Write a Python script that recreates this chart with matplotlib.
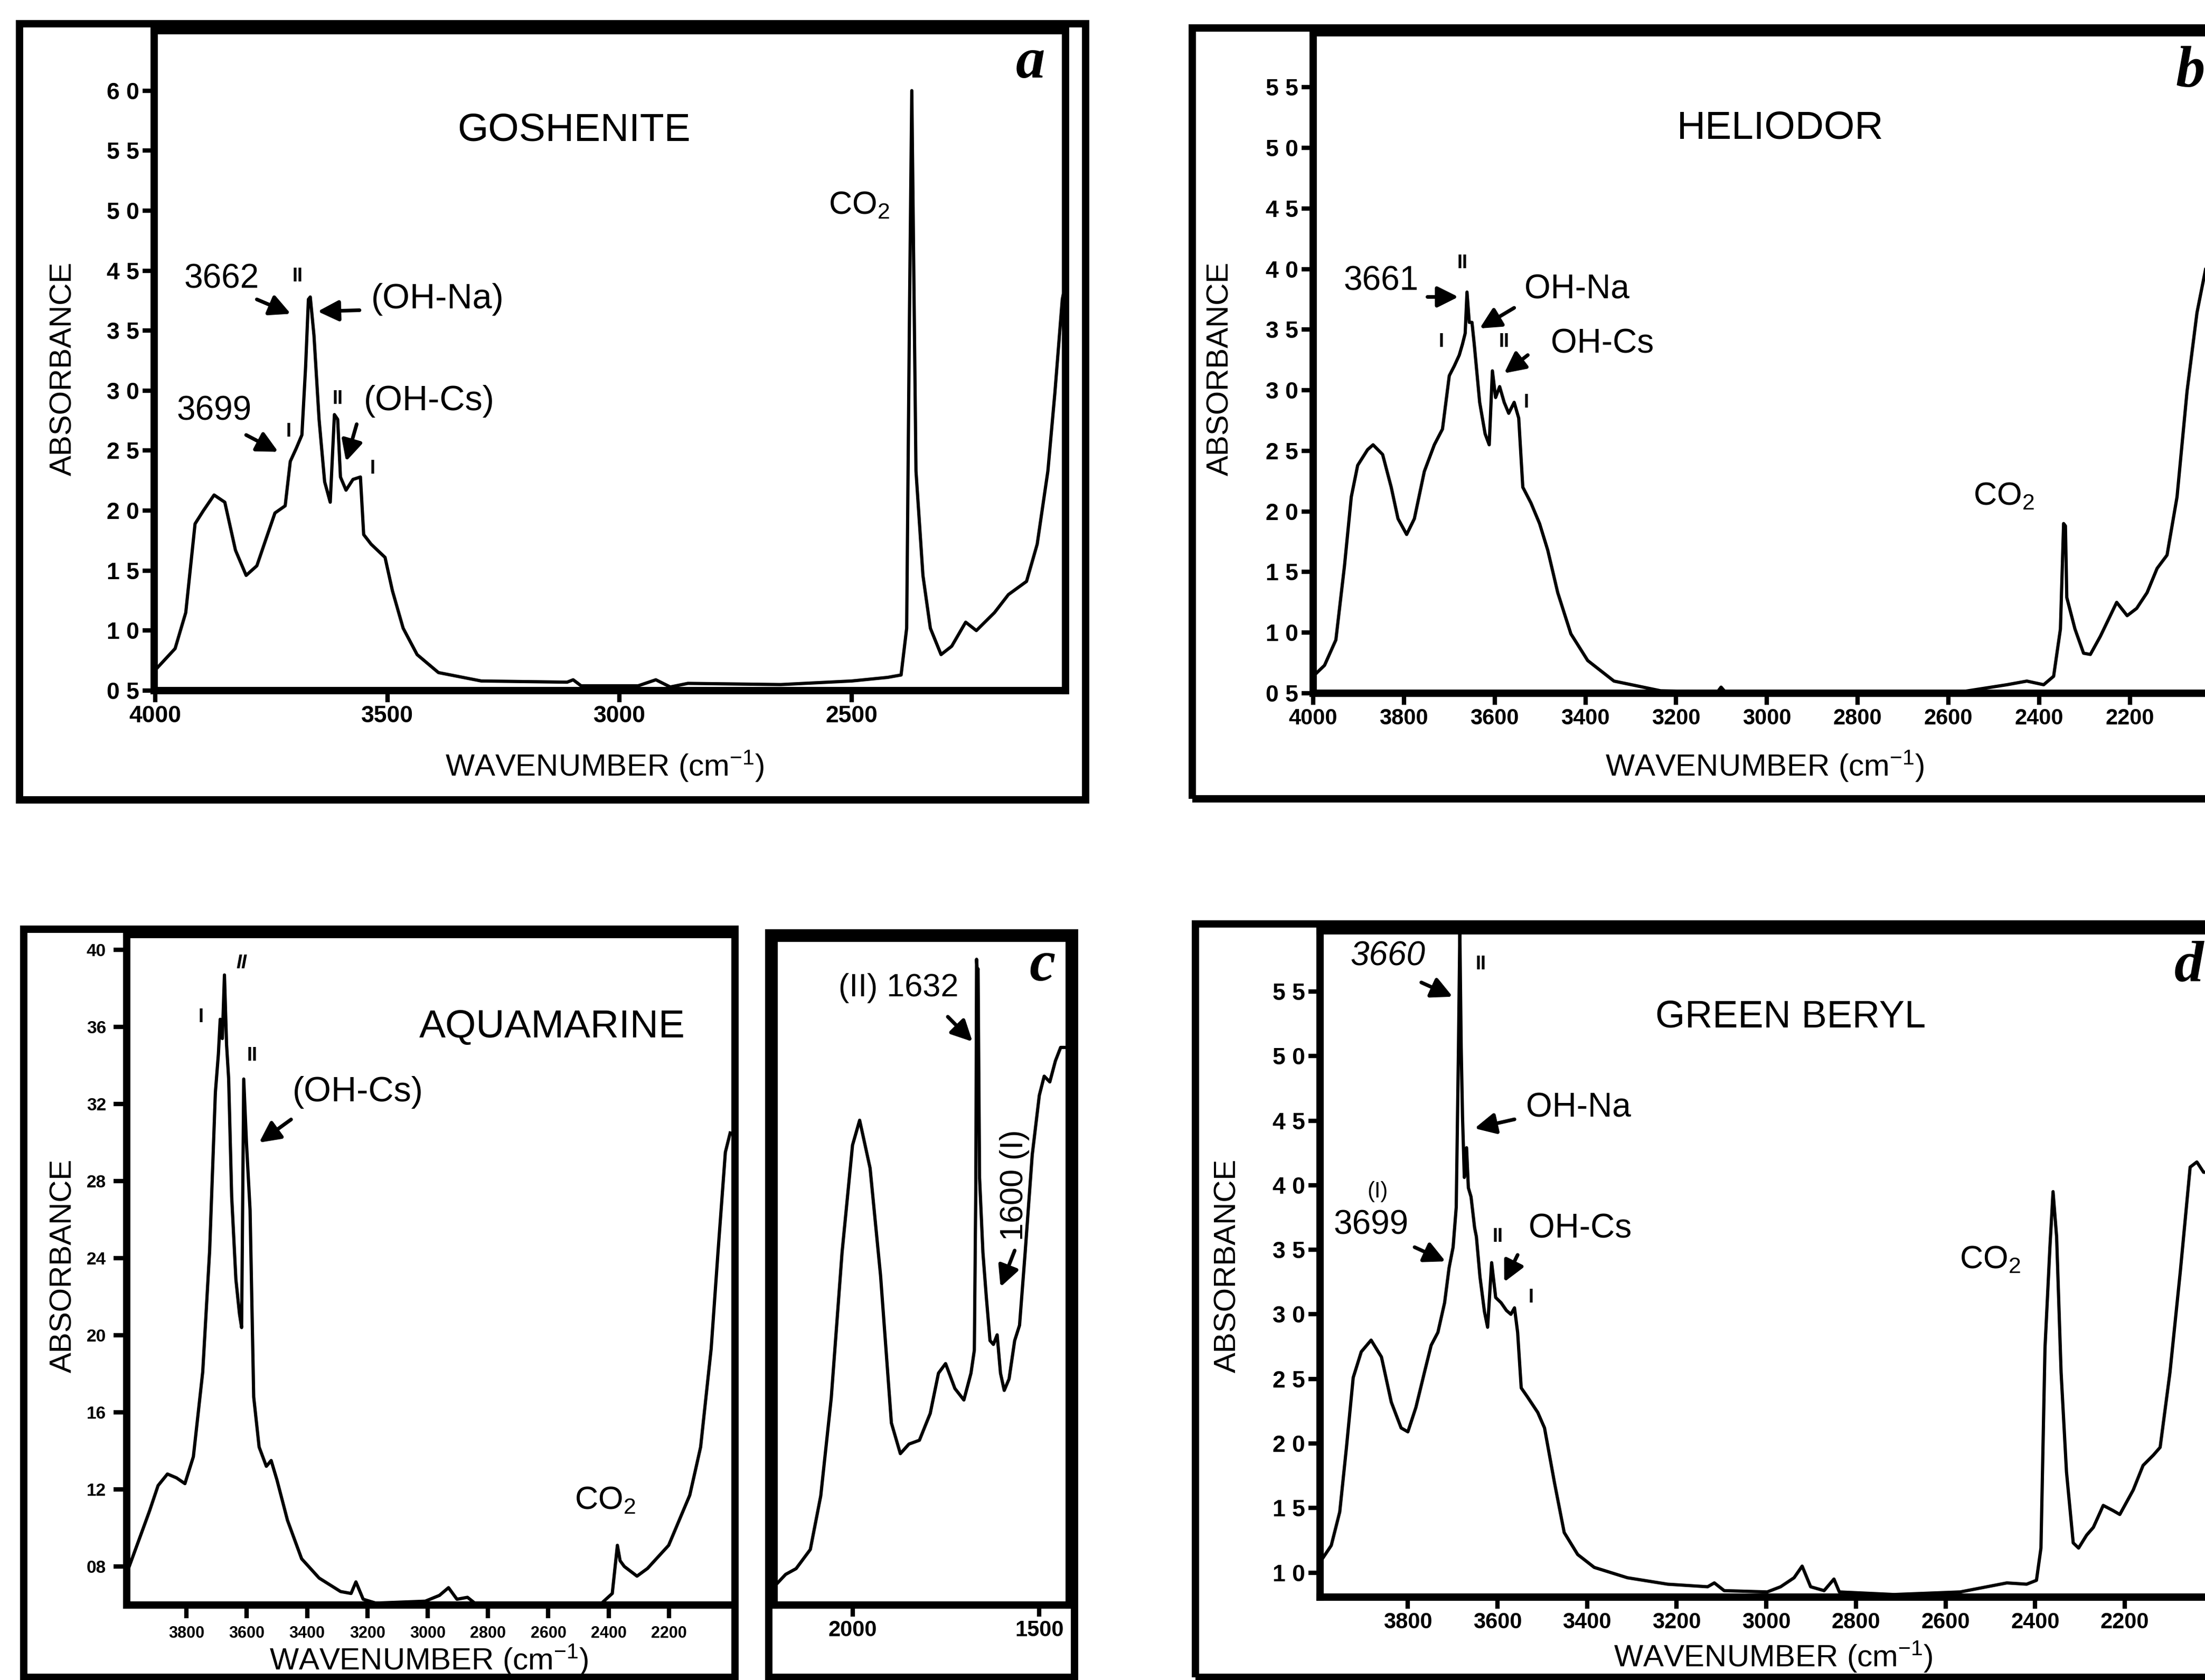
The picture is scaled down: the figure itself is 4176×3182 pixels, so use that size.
import matplotlib
matplotlib.use("Agg")
import matplotlib.pyplot as plt
from matplotlib.patches import Rectangle
from matplotlib import font_manager

# ---- data ----
gosh_wn = [4000, 3957, 3934, 3914, 3896, 3873, 3850, 3827, 3804, 3781, 3758, 3742, 3720, 3709, 3696,
           3684, 3676, 3670, 3666, 3658, 3647, 3635, 3623, 3614, 3607, 3601, 3589, 3574, 3558, 3551,
           3535, 3505, 3489, 3466, 3436, 3390, 3298, 3113, 3100, 3083, 2960, 2922, 2891, 2853, 2653,
           2500, 2423, 2394, 2382, 2376, 2371, 2362, 2347, 2331, 2308, 2285, 2255, 2232, 2193, 2163,
           2124, 2101, 2078, 2063, 2047, 2040]
gosh_abs = [0.67, 0.85, 1.15, 1.89, 2.0, 2.13, 2.07, 1.67, 1.46, 1.54, 1.80, 1.98, 2.04, 2.41, 2.52,
            2.63, 3.2, 3.76, 3.78, 3.46, 2.76, 2.24, 2.07, 2.8, 2.76, 2.28, 2.17, 2.26, 2.28, 1.80,
            1.72, 1.61, 1.33, 1.02, 0.80, 0.65, 0.58, 0.57, 0.59, 0.54, 0.54, 0.59, 0.53, 0.56, 0.55,
            0.58, 0.61, 0.63, 1.02, 3.63, 5.5, 2.33, 1.46, 1.02, 0.80, 0.87, 1.07, 1.0, 1.15, 1.30,
            1.41, 1.72, 2.33, 2.98, 3.76, 3.9]

helio_wn = [4000, 3975, 3950, 3931, 3916, 3902, 3880, 3868, 3847, 3828, 3813, 3794, 3777, 3755, 3733,
            3715, 3700, 3689, 3678, 3671, 3665, 3661, 3656, 3650, 3645, 3633, 3621, 3612, 3605, 3598,
            3589, 3579, 3569, 3557, 3547, 3538, 3520, 3501, 3483, 3461, 3432, 3395, 3337, 3234, 3109,
            3101, 3087, 2940, 2720, 2574, 2471, 2427, 2390, 2368, 2353, 2346, 2342, 2339, 2321, 2302,
            2287, 2265, 2229, 2206, 2185, 2162, 2140, 2118, 2096, 2074, 2052, 2033, 2015]
helio_abs = [0.64, 0.73, 0.94, 1.55, 2.12, 2.38, 2.51, 2.55, 2.47, 2.2, 1.94, 1.81, 1.94, 2.33, 2.55,
             2.68, 3.12, 3.2, 3.29, 3.38, 3.47, 3.81, 3.56, 3.56, 3.38, 2.9, 2.64, 2.55, 3.16, 2.94,
             3.03, 2.9, 2.81, 2.9, 2.77, 2.2, 2.07, 1.9, 1.68, 1.33, 0.99, 0.77, 0.6, 0.52, 0.51,
             0.55, 0.49, 0.49, 0.49, 0.51, 0.57, 0.6, 0.57, 0.64, 1.03, 1.9, 1.88, 1.29, 1.03, 0.83,
             0.82, 0.97, 1.25, 1.14, 1.2, 1.33, 1.53, 1.64, 2.12, 2.99, 3.64, 4.0, 4.3]

aqua_wn = [3992, 3957, 3922, 3894, 3863, 3833, 3805, 3777, 3746, 3723, 3704, 3694, 3688, 3681, 3674,
           3667, 3660, 3650, 3636, 3624, 3617, 3610, 3601, 3589, 3577, 3559, 3535, 3519, 3500, 3465,
           3418, 3360, 3289, 3254, 3238, 3214, 3172, 3008, 2961, 2931, 2903, 2868, 2844, 2423, 2388,
           2371, 2362, 2348, 2306, 2271, 2236, 2201, 2166, 2131, 2095, 2060, 2037, 2013, 1997]
aqua_abs = [0.79, 0.94, 1.09, 1.22, 1.28, 1.26, 1.23, 1.37, 1.81, 2.44, 3.26, 3.46, 3.64, 3.54, 3.87,
            3.51, 3.33, 2.72, 2.29, 2.11, 2.04, 3.33, 3.0, 2.65, 1.68, 1.42, 1.32, 1.35, 1.25, 1.04,
            0.84, 0.74, 0.67, 0.66, 0.72, 0.63, 0.61, 0.62, 0.65, 0.69, 0.63, 0.64, 0.61, 0.61, 0.66,
            0.91, 0.83, 0.8, 0.75, 0.79, 0.85, 0.91, 1.04, 1.17, 1.42, 1.93, 2.44, 2.95, 3.05]

aqua_low_wn = [2208, 2179, 2151, 2113, 2085, 2057, 2028, 2000, 1981, 1953, 1925, 1896, 1872, 1849, 1821,
               1792, 1770, 1751, 1726, 1702, 1683, 1674, 1670, 1668, 1666, 1664, 1660, 1651, 1642, 1632,
               1623, 1613, 1604, 1594, 1581, 1566, 1553, 1538, 1519, 1500, 1487, 1472, 1457, 1443, 1430]
aqua_low_abs = [0.70, 0.76, 0.79, 0.89, 1.17, 1.68, 2.44, 3.0, 3.13, 2.88, 2.32, 1.55, 1.39, 1.44, 1.46,
                1.60, 1.81, 1.86, 1.73, 1.67, 1.81, 1.93, 2.8, 3.97, 3.9, 3.92, 2.83, 2.44, 2.21, 1.98,
                1.96, 2.01, 1.81, 1.72, 1.78, 1.98, 2.06, 2.44, 2.95, 3.26, 3.36, 3.33, 3.44, 3.51, 3.51]

green_wn = [3996, 3971, 3952, 3937, 3922, 3904, 3882, 3859, 3837, 3815, 3800, 3782, 3763, 3748, 3733,
            3718, 3708, 3699, 3692, 3687, 3684, 3681, 3678, 3674, 3669, 3665, 3659, 3651, 3647, 3639,
            3629, 3622, 3613, 3604, 3592, 3580, 3570, 3562, 3555, 3547, 3533, 3510, 3495, 3473, 3451,
            3421, 3384, 3310, 3220, 3131, 3116, 3094, 2998, 2968, 2938, 2920, 2901, 2871, 2849, 2837,
            2715, 2567, 2463, 2419, 2397, 2387, 2378, 2367, 2360, 2352, 2342, 2330, 2315, 2303, 2285,
            2270, 2248, 2226, 2211, 2181, 2159, 2136, 2121, 2099, 2076, 2054, 2039, 2024, 2010]
green_abs = [1.08, 1.21, 1.47, 1.97, 2.51, 2.71, 2.8, 2.67, 2.32, 2.12, 2.09, 2.28, 2.55, 2.76, 2.86,
             3.09, 3.36, 3.52, 3.83, 5.07, 5.96, 5.07, 4.53, 4.06, 4.29, 3.98, 3.91, 3.67, 3.6, 3.29,
             3.02, 2.9, 3.4, 3.13, 3.09, 3.03, 3.0, 3.05, 2.86, 2.43, 2.36, 2.24, 2.12, 1.70, 1.31,
             1.14, 1.04, 0.96, 0.91, 0.89, 0.92, 0.86, 0.85, 0.89, 0.96, 1.05, 0.89, 0.86, 0.95, 0.85,
             0.83, 0.85, 0.92, 0.91, 0.94, 1.19, 2.74, 3.52, 3.95, 3.6, 2.55, 1.78, 1.23, 1.19, 1.29,
             1.35, 1.52, 1.48, 1.45, 1.64, 1.83, 1.91, 1.97, 2.55, 3.33, 4.14, 4.18, 4.1, 4.1]

# tick values / labels as printed (panel a skips "4 0" on its scale)
a_xticks = [4000, 3500, 3000, 2500]
a_yticks = [0.5, 1.0, 1.5, 2.0, 2.5, 3.0, 3.5, 4.0, 4.5, 5.0, 5.5]
a_ylabels = ["0 5", "1 0", "1 5", "2 0", "2 5", "3 0", "3 5", "4 5", "5 0", "5 5", "6 0"]
b_xticks = [4000, 3800, 3600, 3400, 3200, 3000, 2800, 2600, 2400, 2200]
b_yticks = [0.5, 1.0, 1.5, 2.0, 2.5, 3.0, 3.5, 4.0, 4.5, 5.0, 5.5]
b_ylabels = ["0 5", "1 0", "1 5", "2 0", "2 5", "3 0", "3 5", "4 0", "4 5", "5 0", "5 5"]
c_xticks = [3800, 3600, 3400, 3200, 3000, 2800, 2600, 2400, 2200]
c_yticks = [0.8, 1.2, 1.6, 2.0, 2.4, 2.8, 3.2, 3.6, 4.0]
c_ylabels = ["08", "12", "16", "20", "24", "28", "32", "36", "40"]
c2_xticks = [2000, 1500]
d_xticks = [3800, 3600, 3400, 3200, 3000, 2800, 2600, 2400, 2200]
d_yticks = [1.0, 1.5, 2.0, 2.5, 3.0, 3.5, 4.0, 4.5, 5.0, 5.5]
d_ylabels = ["1 0", "1 5", "2 0", "2 5", "3 0", "3 5", "4 0", "4 5", "5 0", "5 5"]

# ---- fonts ----
names = {f.name for f in font_manager.fontManager.ttflist}
NARROW = "Liberation Sans Narrow" if "Liberation Sans Narrow" in names else "Liberation Sans"
plt.rcParams["font.family"] = ["Liberation Sans", "DejaVu Sans"]
plt.rcParams["mathtext.fontset"] = "custom"
plt.rcParams["mathtext.rm"] = "Liberation Sans"
plt.rcParams["mathtext.it"] = "Liberation Sans:italic"
plt.rcParams["mathtext.bf"] = "Liberation Sans:bold"

W, H = 4176, 3182
fig = plt.figure(figsize=(W / 200, H / 200), dpi=200)


def px_box(x0, y0, x1, y1):
    return [x0 / W, 1 - y1 / H, (x1 - x0) / W, (y1 - y0) / H]


def frame(x0, y0, x1, y1):
    fig.add_artist(Rectangle((x0 / W, 1 - y1 / H), (x1 - x0) / W, (y1 - y0) / H,
                             transform=fig.transFigure, fill=False, lw=5, ec="k", clip_on=False))


def ftext(x, y, s, **kw):
    fig.text(x / W, 1 - y / H, s, **kw)


def arrow(ax, tail, head):
    ax.annotate("", xy=head, xytext=tail,
                arrowprops=dict(arrowstyle="-|>", color="k", lw=2.5, mutation_scale=30,
                                shrinkA=0, shrinkB=0))


def make_axes(box, xlim, ylim):
    ax = fig.add_axes(px_box(*box))
    ax.set_xlim(*xlim)
    ax.set_ylim(*ylim)
    for s in ax.spines.values():
        s.set_linewidth(5)
    ax.tick_params(direction="out", width=3, length=8, pad=2)
    return ax


LW = 2.2
note = dict(fontsize=23)
mark = dict(fontsize=13, family=NARROW, fontweight="bold")
letter = dict(fontsize=40, family="Liberation Serif", style="italic", fontweight="bold")

# ---- panel a: goshenite ----
frame(37, 45, 2056, 1515)
ax = make_axes((292, 58, 2018, 1308), (4002, 2040), (0.5, 6.0))
ax.plot(gosh_wn, gosh_abs, color="k", lw=LW)
ax.set_xticks(a_xticks)
ax.set_xticklabels([str(v) for v in a_xticks], family=NARROW, fontweight="bold", fontsize=16)
ax.set_yticks(a_yticks)
ax.set_yticklabels(a_ylabels, fontweight="bold", fontsize=16)
ax.text(3098, 5.17, "GOSHENITE", fontsize=27, ha="center", va="center")
ax.text(3857, 3.93, "3662", ha="center", va="center", **note)
ax.text(3693, 3.95, "II", ha="center", va="center", **mark)
arrow(ax, (3781, 3.76), (3708, 3.64))
ax.text(3535, 3.76, "(OH-Na)", ha="left", va="center", fontsize=24)
arrow(ax, (3560, 3.67), (3650, 3.66))
ax.text(3873, 2.83, "3699", ha="center", va="center", **note)
arrow(ax, (3804, 2.63), (3735, 2.49))
ax.text(3712, 2.66, "I", ha="center", va="center", **mark)
ax.text(3607, 2.93, "II", ha="center", va="center", **mark)
ax.text(3551, 2.91, "(OH-Cs)", ha="left", va="center", fontsize=24)
arrow(ax, (3566, 2.72), (3589, 2.41))
ax.text(3532, 2.35, "I", ha="center", va="center", **mark)
ax.text(2485, 4.54, "CO$_2$", ha="center", va="center", fontsize=22)
ftext(1145, 1451, "WAVENUMBER (cm$^{-1}$)", fontsize=21, ha="center", va="center")
ftext(120, 698, "ABSORBANCE", fontsize=21, ha="center", va="center", rotation=90)
ftext(1952, 120, "a", ha="center", va="center", **letter)

# ---- panel b: heliodor ----
frame(2258, 53, 4226, 1513)
ax = make_axes((2487, 62, 4276, 1313), (4000, 1918), (0.5, 5.95))
ax.plot(helio_wn, helio_abs, color="k", lw=LW)
ax.set_xticks(b_xticks)
ax.set_xticklabels([str(v) for v in b_xticks], family=NARROW, fontweight="bold", fontsize=15)
ax.set_yticks(b_yticks)
ax.set_yticklabels(b_ylabels, fontweight="bold", fontsize=16)
ax.text(2970, 5.16, "HELIODOR", fontsize=27, ha="center", va="center")
ax.text(3850, 3.9, "3661", ha="center", va="center", **note)
ax.text(3671, 4.05, "II", ha="center", va="center", **mark)
arrow(ax, (3748, 3.77), (3680, 3.77))
ax.text(3535, 3.83, "OH-Na", ha="left", va="center", fontsize=23)
arrow(ax, (3557, 3.68), (3633, 3.51))
ax.text(3718, 3.4, "I", ha="center", va="center", **mark)
ax.text(3579, 3.4, "II", ha="center", va="center", **mark)
ax.text(3476, 3.38, "OH-Cs", ha="left", va="center", fontsize=23)
arrow(ax, (3527, 3.29), (3579, 3.14))
ax.text(3530, 2.9, "I", ha="center", va="center", **mark)
ax.text(2478, 2.12, "CO$_2$", ha="center", va="center", fontsize=22)
ftext(3342, 1451, "WAVENUMBER (cm$^{-1}$)", fontsize=21, ha="center", va="center")
ftext(2311, 698, "ABSORBANCE", fontsize=21, ha="center", va="center", rotation=90)
ftext(4148, 137, "b", ha="center", va="center", **letter)

# ---- panel c: aquamarine (two parts) ----
frame(45, 1760, 1392, 3177)
ax = make_axes((240, 1770, 1392, 3040), (3998, 1981), (0.6, 4.08))
ax.plot(aqua_wn, aqua_abs, color="k", lw=LW)
ax.set_xticks(c_xticks)
ax.set_xticklabels([str(v) for v in c_xticks], family=NARROW, fontweight="bold", fontsize=11)
ax.set_yticks(c_yticks)
ax.set_yticklabels(c_ylabels, family=NARROW, fontweight="bold", fontsize=12)
ax.tick_params(axis="both", length=9, pad=5)
ax.text(2587, 3.6, "AQUAMARINE", fontsize=27, ha="center", va="center")
ax.text(3751, 3.65, "I", ha="center", va="center", **mark)
ax.text(3617, 3.93, "II", ha="center", va="center", style="italic", **mark)
ax.text(3582, 3.45, "II", ha="center", va="center", **mark)
ax.text(3231, 3.26, "(OH-Cs)", ha="center", va="center", fontsize=24)
arrow(ax, (3453, 3.12), (3559, 3.0))
ax.text(2411, 1.14, "CO$_2$", ha="center", va="center", fontsize=22)
ftext(812, 3143, "WAVENUMBER (cm$^{-1}$)", fontsize=21, ha="center", va="center")
ftext(120, 2397, "ABSORBANCE", fontsize=21, ha="center", va="center", rotation=90)

frame(1456, 1767, 2035, 3177)
ax = make_axes((1466, 1777, 2025, 3040), (2210, 1420), (0.6, 4.08))
ax.plot(aqua_low_wn, aqua_low_abs, color="k", lw=LW)
ax.set_xticks(c2_xticks)
ax.set_xticklabels([str(v) for v in c2_xticks], family=NARROW, fontweight="bold", fontsize=15)
ax.set_yticks([])
ax.text(1877, 3.82, "(II) 1632", ha="center", va="center", fontsize=22)
arrow(ax, (1745, 3.67), (1679, 3.54))
ax.text(1566, 2.79, "1600 (I)", ha="center", va="center", rotation=90, fontsize=22)
arrow(ax, (1566, 2.45), (1604, 2.26))
ftext(1974, 1830, "c", ha="center", va="center", **letter)

# ---- panel d: green beryl ----
frame(2264, 1750, 4226, 3177)
ax = make_axes((2500, 1763, 4276, 3025), (3996, 1903), (0.81, 5.97))
ax.plot(green_wn, green_abs, color="k", lw=LW)
ax.set_xticks(d_xticks)
ax.set_xticklabels([str(v) for v in d_xticks], family=NARROW, fontweight="bold", fontsize=15)
ax.set_yticks(d_yticks)
ax.set_yticklabels(d_ylabels, fontweight="bold", fontsize=16)
ax.text(2946, 5.3, "GREEN BERYL", fontsize=26, ha="center", va="center")
ax.text(3845, 5.77, "3660", ha="center", va="center", style="italic", **note)
ax.text(3637, 5.71, "II", ha="center", va="center", **mark)
arrow(ax, (3770, 5.57), (3700, 5.46))
ax.text(3536, 4.6, "OH-Na", ha="left", va="center", fontsize=23)
arrow(ax, (3562, 4.51), (3651, 4.44))
ax.text(3867, 3.95, "(I)", ha="center", va="center", fontsize=15)
ax.text(3882, 3.69, "3699", ha="center", va="center", **note)
arrow(ax, (3785, 3.52), (3716, 3.41))
ax.text(3599, 3.6, "II", ha="center", va="center", **mark)
ax.text(3530, 3.66, "OH-Cs", ha="left", va="center", fontsize=23)
arrow(ax, (3555, 3.46), (3585, 3.25))
ax.text(3525, 3.13, "I", ha="center", va="center", **mark)
ax.text(2500, 3.42, "CO$_2$", ha="center", va="center", fontsize=22)
ftext(3358, 3137, "WAVENUMBER (cm$^{-1}$)", fontsize=21, ha="center", va="center")
ftext(2325, 2397, "ABSORBANCE", fontsize=21, ha="center", va="center", rotation=90)
ftext(4146, 1832, "d", ha="center", va="center", **letter)

fig.savefig("out.png", dpi=200)
